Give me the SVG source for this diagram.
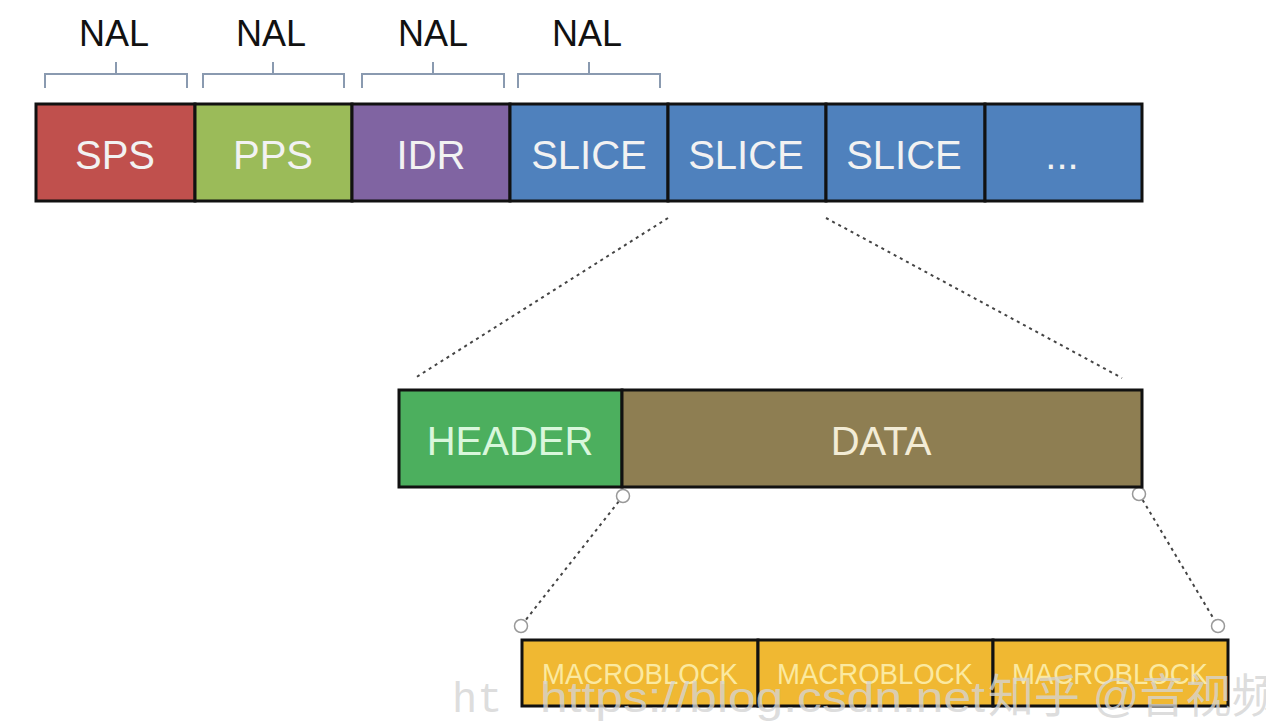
<svg xmlns="http://www.w3.org/2000/svg" width="1266" height="724" viewBox="0 0 1266 724">
<style>
.box{stroke:#111;stroke-width:3}
.lbl{font-family:"Liberation Sans",Arial,sans-serif;font-size:40px;fill:#f2f2f2;text-anchor:middle}
.nal{font-family:"Liberation Sans",Arial,sans-serif;font-size:36px;fill:#111;text-anchor:middle}
.brace{fill:none;stroke:#8a9ab0;stroke-width:2}
.dash{fill:none;stroke:#444;stroke-width:2;stroke-dasharray:3 4}
.dot{fill:#fff;stroke:#999;stroke-width:1.5}
.mb{font-family:"Liberation Sans",Arial,sans-serif;font-size:30px;fill:#fbe9a0;text-anchor:middle}
.wm{font-family:"Liberation Sans","Noto Sans CJK SC",sans-serif;font-size:42px;fill:#d4d4d4;fill-opacity:0.8}
</style>
<rect width="1266" height="724" fill="#fff"/>
<g id="braces">
<path class="brace" d="M45 88V74H187V88M116 74V62"/>
<path class="brace" d="M203 88V74H344V88M273 74V62"/>
<path class="brace" d="M362 88V74H504V88M433 74V62"/>
<path class="brace" d="M518 88V74H660V88M589 74V62"/>
<text class="nal" x="114" y="46">NAL</text>
<text class="nal" x="271" y="46">NAL</text>
<text class="nal" x="433" y="46">NAL</text>
<text class="nal" x="587" y="46">NAL</text>
</g>
<g id="connectors">
<line class="dash" x1="668" y1="218" x2="415" y2="378"/>
<line class="dash" x1="826" y1="218" x2="1122" y2="378"/>
<line class="dash" x1="623" y1="496" x2="521" y2="626"/>
<line class="dash" x1="1139" y1="494" x2="1218" y2="626"/>
<circle class="dot" cx="623" cy="496" r="6.5"/>
<circle class="dot" cx="1139" cy="494" r="6.5"/>
<circle class="dot" cx="521" cy="626" r="6.5"/>
<circle class="dot" cx="1218" cy="626" r="6.5"/>
</g>
<g id="sps"><rect class="box" x="36" y="104" width="159" height="97" fill="#c0504d"/><text class="lbl" x="115" y="169">SPS</text></g>
<g id="pps"><rect class="box" x="195" y="104" width="157" height="97" fill="#9bbb59"/><text class="lbl" x="273" y="169">PPS</text></g>
<g id="idr"><rect class="box" x="352" y="104" width="158" height="97" fill="#8064a2"/><text class="lbl" x="431" y="169">IDR</text></g>
<g id="slice1"><rect class="box" x="510" y="104" width="158" height="97" fill="#4f81bd"/><text class="lbl" x="589" y="169">SLICE</text></g>
<g id="slice2"><rect class="box" x="668" y="104" width="158" height="97" fill="#4f81bd"/><text class="lbl" x="746" y="169">SLICE</text></g>
<g id="slice3"><rect class="box" x="826" y="104" width="159" height="97" fill="#4f81bd"/><text class="lbl" x="904" y="169">SLICE</text></g>
<g id="more"><rect class="box" x="985" y="104" width="157" height="97" fill="#4f81bd"/><text class="lbl" x="1062" y="169">...</text></g>
<g id="header"><rect class="box" x="399" y="390" width="223" height="97" fill="#4caf5e"/><text class="lbl" x="510" y="455" style="fill:#d9f7dc">HEADER</text></g>
<g id="data"><rect class="box" x="622" y="390" width="520" height="97" fill="#8e7e52"/><text class="lbl" x="881" y="455" style="fill:#f3ecd6">DATA</text></g>
<g id="mb1"><rect class="box" x="522" y="640" width="236" height="66" fill="#f0b832"/><text class="mb" x="640" y="684" textLength="196" lengthAdjust="spacingAndGlyphs">MACROBLOCK</text></g>
<g id="mb2"><rect class="box" x="758" y="640" width="235" height="66" fill="#f0b832"/><text class="mb" x="875" y="684" textLength="196" lengthAdjust="spacingAndGlyphs">MACROBLOCK</text></g>
<g id="mb3"><rect class="box" x="993" y="640" width="235" height="66" fill="#f0b832"/><text class="mb" x="1110" y="684" textLength="196" lengthAdjust="spacingAndGlyphs">MACROBLOCK</text></g>
<g id="watermark">
<text class="wm" x="452" y="712" style="font-family:'Liberation Mono',monospace">ht</text>
<text class="wm" x="540" y="712" textLength="445" lengthAdjust="spacingAndGlyphs">https://blog.csdn.net</text>
<text class="wm" x="988" y="712" style="font-size:46px">知乎 @音视频</text>
</g>
</svg>
